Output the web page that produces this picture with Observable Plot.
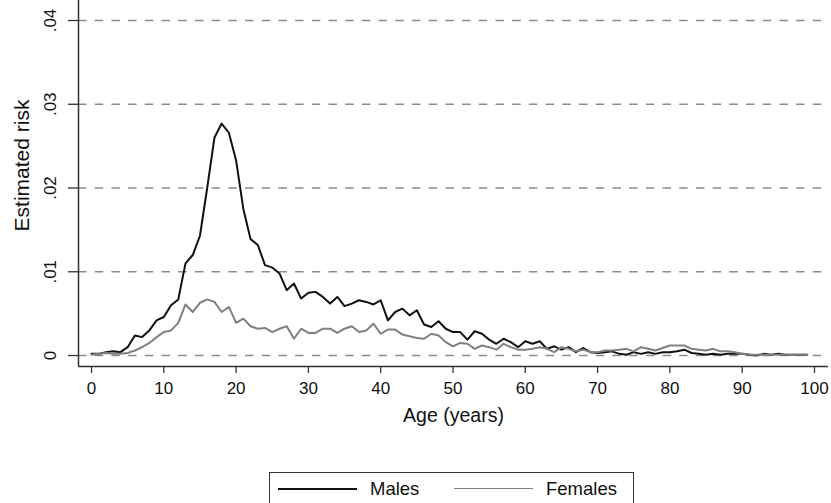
<!DOCTYPE html>
<html>
<head>
<meta charset="utf-8">
<script src="https://cdn.jsdelivr.net/npm/d3@7"></script>
<script src="https://cdn.jsdelivr.net/npm/@observablehq/plot@0.6"></script>
<style>
  html, body { margin: 0; padding: 0; background: #fff; }
  #chart svg { display: block; }
  #legend {
    position: absolute; left: 269px; top: 472px; width: 365px; height: 40px;
    border: 1.5px solid #333; box-sizing: border-box; background: #fff;
    font-family: "Liberation Sans", Arial, sans-serif; font-size: 18.5px; color: #111;
  }
  #legend .sw { position: absolute; top: 15px; height: 0; }
  #legend .lab { position: absolute; top: 5px; }
</style>
</head>
<body>
<div id="chart"></div>
<div id="legend"></div>
<script>
const ages = d3.range(0, 100);
const males = [
  0.0002, 0.0002, 0.0004, 0.0005, 0.0004, 0.0010, 0.0024, 0.0022, 0.0030, 0.0042,
  0.0046, 0.0060, 0.0067, 0.0110, 0.0120, 0.0143, 0.0200, 0.0260, 0.0277, 0.0266,
  0.0233, 0.0175, 0.0139, 0.0132, 0.0108, 0.0105, 0.0098, 0.0078, 0.0086, 0.0068,
  0.0075, 0.0076, 0.0070, 0.0062, 0.0070, 0.0059, 0.0062, 0.0066, 0.0064, 0.0061,
  0.0066, 0.0042, 0.0052, 0.0056, 0.0048, 0.0054, 0.0037, 0.0034, 0.0041, 0.0032,
  0.0028, 0.0028, 0.0019, 0.0029, 0.0026, 0.0019, 0.0014, 0.0020, 0.0016, 0.0010,
  0.0017, 0.0014, 0.0017, 0.0008, 0.0011, 0.0007, 0.0010, 0.0004, 0.0009, 0.0004,
  0.0003, 0.0004, 0.0005, 0.0002, 0.0001, 0.0004, 0.0002, 0.0004, 0.0002, 0.0004,
  0.0004, 0.0005, 0.0007, 0.0003, 0.0002, 0.0001, 0.0002, 0.0001, 0.0002, 0.0002,
  0.0002, 0.0001, 0.0000, 0.0002, 0.0001, 0.0002, 0.0001, 0.0001, 0.0001, 0.0001
];
const females = [
  0.0001, 0.0002, 0.0003, 0.0002, 0.0002, 0.0003, 0.0006, 0.0010, 0.0015, 0.0022,
  0.0028, 0.0030, 0.0039, 0.0061, 0.0052, 0.0063, 0.0067, 0.0064, 0.0052, 0.0058,
  0.0039, 0.0044, 0.0035, 0.0032, 0.0033, 0.0028, 0.0032, 0.0035, 0.0020, 0.0032,
  0.0027, 0.0027, 0.0032, 0.0032, 0.0027, 0.0032, 0.0035, 0.0028, 0.0030, 0.0038,
  0.0026, 0.0031, 0.0031, 0.0025, 0.0023, 0.0021, 0.0020, 0.0026, 0.0024, 0.0016,
  0.0011, 0.0015, 0.0014, 0.0008, 0.0012, 0.0010, 0.0007, 0.0014, 0.0010, 0.0007,
  0.0007, 0.0008, 0.0010, 0.0008, 0.0004, 0.0010, 0.0008, 0.0005, 0.0007, 0.0004,
  0.0004, 0.0006, 0.0006, 0.0007, 0.0008, 0.0005, 0.0010, 0.0008, 0.0006, 0.0009,
  0.0012, 0.0012, 0.0012, 0.0008, 0.0007, 0.0006, 0.0008, 0.0005, 0.0005, 0.0004,
  0.0002, 0.0001, 0.0001, 0.0001, 0.0001, 0.0001, 0.0001, 0.0001, 0.0001, 0.0001
];
const xTicks = [0, 10, 20, 30, 40, 50, 60, 70, 80, 90, 100];
const yTicks = [0, 0.01, 0.02, 0.03, 0.04];
const yTickLabels = ["0", ".01", ".02", ".03", ".04"];
const seriesNames = ["Males", "Females"];
const seriesColors = ["#111111", "#808080"];
const xLabel = "Age (years)";
const yLabel = "Estimated risk";

const xDomain = [-1.8, 101.94];
const yDomain = [-0.00131, 0.04239];

const data = [
  ...ages.map((a, i) => ({age: a, risk: males[i], sex: seriesNames[0]})),
  ...ages.map((a, i) => ({age: a, risk: females[i], sex: seriesNames[1]}))
];

const font = "'Liberation Sans', Arial, sans-serif";

const chart = Plot.plot({
  width: 831,
  height: 460,
  marginLeft: 78,
  marginRight: 3,
  marginTop: 0,
  marginBottom: 94,
  x: {domain: xDomain},
  y: {domain: yDomain},
  color: {domain: seriesNames, range: seriesColors},
  style: {fontFamily: font, background: "#fff", color: "#111"},
  marks: [
    Plot.ruleY(yTicks, {stroke: "#8c8c8c", strokeWidth: 1.4, strokeDasharray: "8.5,8.2"}),
    Plot.line(data, {x: "age", y: "risk", z: "sex", stroke: "sex", strokeWidth: 2, strokeLinejoin: "round"}),
    Plot.ruleX([xDomain[0]], {stroke: "#333", strokeWidth: 1.5}),
    Plot.ruleY([yDomain[0]], {stroke: "#333", strokeWidth: 1.5}),
    Plot.axisX({ticks: xTicks, tickSize: 7, tickPadding: 8, fontSize: 17, stroke: "#333", strokeWidth: 1.3, label: null}),
    Plot.axisY({ticks: yTicks, tickSize: 10, tickFormat: () => "", stroke: "#333", strokeWidth: 1.3, label: null}),
    Plot.text(yTicks, {y: d => d, text: (d, i) => yTickLabels[i], frameAnchor: "left", textAnchor: "middle", dx: -28, rotate: -90, fontSize: 17, fill: "#111"}),
    Plot.text([yLabel], {frameAnchor: "left", textAnchor: "middle", dx: -56, dy: -18, rotate: -90, fontSize: 21, fill: "#111"}),
    Plot.text([xLabel], {frameAnchor: "bottom", dy: 55, fontSize: 19.5, fill: "#111"})
  ]
});
document.getElementById("chart").appendChild(chart);

// Legend below the plot
const legend = document.getElementById("legend");
const swX = [8, 184];
const labX = [100, 276];
seriesNames.forEach((name, i) => {
  const sw = document.createElement("div");
  sw.className = "sw";
  sw.style.left = swX[i] + "px";
  sw.style.width = "79px";
  sw.style.borderTop = (i === 0 ? 2 : 1.5) + "px solid " + seriesColors[i];
  legend.appendChild(sw);
  const lab = document.createElement("span");
  lab.className = "lab";
  lab.style.left = labX[i] + "px";
  lab.textContent = name;
  legend.appendChild(lab);
});
</script>
</body>
</html>
